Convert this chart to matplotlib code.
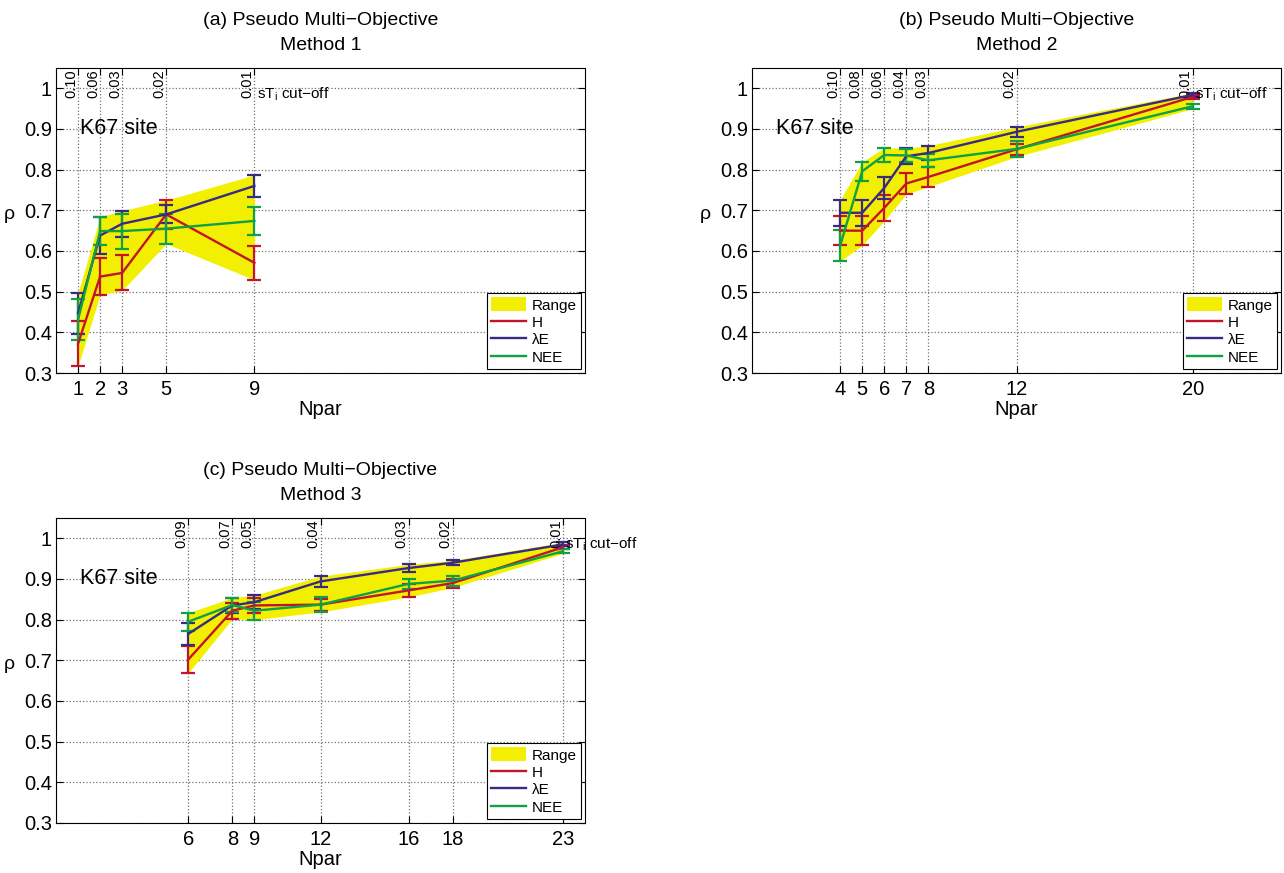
"""Correlation of simulated fluxes with observations against the number of
calibrated parameters, for the three pseudo multi-objective methods (K67 site).
"""

import matplotlib.pyplot as plt
import numpy as np
from matplotlib.lines import Line2D
from matplotlib.patches import Patch

plt.rcParams["font.family"] = ["Liberation Sans", "DejaVu Sans"]
plt.rcParams["mathtext.fontset"] = "custom"
plt.rcParams["mathtext.rm"] = "Liberation Sans"
plt.rcParams["mathtext.it"] = "Liberation Sans:italic"

RANGE_COLOR = "#f2f000"
H_COLOR = "#c1152e"
LE_COLOR = "#3a2b82"
NEE_COLOR = "#10a047"

# Method 1
npar_a = [1, 2, 3, 5, 9]
cutoff_a = ["0.10", "0.06", "0.03", "0.02", "0.01"]
h_a = [0.372, 0.537, 0.546, 0.690, 0.571]
h_err_a = [0.055, 0.045, 0.043, 0.035, 0.042]
le_a = [0.447, 0.638, 0.667, 0.690, 0.760]
le_err_a = [0.050, 0.046, 0.032, 0.022, 0.027]
nee_a = [0.431, 0.649, 0.649, 0.655, 0.674]
nee_err_a = [0.050, 0.035, 0.043, 0.037, 0.035]

# Method 2
npar_b = [4, 5, 6, 7, 8, 12, 20]
cutoff_b = ["0.10", "0.08", "0.06", "0.04", "0.03", "0.02", "0.01"]
h_b = [0.650, 0.650, 0.706, 0.766, 0.782, 0.850, 0.979]
h_err_b = [0.036, 0.036, 0.032, 0.026, 0.024, 0.014, 0.005]
le_b = [0.694, 0.694, 0.755, 0.833, 0.841, 0.893, 0.984]
le_err_b = [0.032, 0.032, 0.026, 0.020, 0.018, 0.012, 0.005]
nee_b = [0.613, 0.796, 0.836, 0.835, 0.823, 0.851, 0.956]
nee_err_b = [0.038, 0.023, 0.018, 0.016, 0.016, 0.019, 0.006]

# Method 3
npar_c = [6, 8, 9, 12, 16, 18, 23]
cutoff_c = ["0.09", "0.07", "0.05", "0.04", "0.03", "0.02", "0.01"]
h_c = [0.702, 0.822, 0.835, 0.837, 0.872, 0.890, 0.978]
h_err_c = [0.033, 0.020, 0.018, 0.015, 0.016, 0.011, 0.005]
le_c = [0.765, 0.835, 0.843, 0.894, 0.927, 0.940, 0.985]
le_err_c = [0.027, 0.018, 0.017, 0.013, 0.009, 0.006, 0.005]
nee_c = [0.795, 0.836, 0.822, 0.837, 0.888, 0.896, 0.968]
nee_err_c = [0.022, 0.018, 0.022, 0.018, 0.012, 0.012, 0.005]

yticks = [0.3, 0.4, 0.5, 0.6, 0.7, 0.8, 0.9, 1.0]
ytick_labels = ["0.3", "0.4", "0.5", "0.6", "0.7", "0.8", "0.9", "1"]


def draw_panel(ax, npar, cutoffs, h, h_err, le, le_err, nee, nee_err, title):
    """Draw the three flux series with error bars over their envelope."""
    x = np.asarray(npar, dtype=float)
    vals = np.array([h, le, nee])
    errs = np.array([h_err, le_err, nee_err])
    lower = (vals - errs).min(axis=0)
    upper = (vals + errs).max(axis=0)

    ax.fill_between(x, lower, upper, color=RANGE_COLOR, lw=0, zorder=1)
    for v, e, c in zip(vals, errs, [H_COLOR, LE_COLOR, NEE_COLOR]):
        ax.errorbar(x, v, yerr=e, color=c, lw=1.7, elinewidth=1.6,
                    capsize=5, capthick=1.6, zorder=3)

    ax.set_xlim(0, 24)
    ax.set_ylim(0.3, 1.05)
    ax.set_xticks(npar)
    ax.set_xticklabels([str(n) for n in npar])
    ax.set_yticks(yticks)
    ax.set_yticklabels(ytick_labels)
    ax.tick_params(direction="in", length=5, width=0.8, labelsize=14.5,
                   top=True, right=True)
    ax.tick_params(axis="x", pad=5)
    ax.tick_params(axis="y", pad=3)
    ax.grid(True, linestyle=":", color="0.45", linewidth=0.9)
    ax.set_axisbelow(True)
    for spine in ax.spines.values():
        spine.set_linewidth(0.8)

    # sensitivity-index cut-off for each parameter set
    for n, c in zip(npar, cutoffs):
        ax.text(n, 1.046, c, rotation=90, ha="right", va="top", fontsize=10.5)
    ax.text(npar[-1] + 0.1, 0.985, r"sT$_{\rm i}$ cut$-$off", ha="left",
            va="center", fontsize=11)

    ax.text(0.045, 0.8, "K67 site", transform=ax.transAxes, ha="left",
            va="center", fontsize=15.5)

    handles = [
        Patch(facecolor=RANGE_COLOR, edgecolor="none", label="Range"),
        Line2D([], [], color=H_COLOR, lw=1.7, label="H"),
        Line2D([], [], color=LE_COLOR, lw=1.7, label="λE"),
        Line2D([], [], color=NEE_COLOR, lw=1.7, label="NEE"),
    ]
    leg = ax.legend(handles=handles, loc="lower right", fontsize=11,
                    fancybox=False, framealpha=1, edgecolor="black",
                    borderaxespad=0.25, handlelength=2.3, handleheight=1.0,
                    labelspacing=0.15, borderpad=0.3, handletextpad=0.35)
    leg.get_frame().set_linewidth(0.8)

    ax.set_title(title, fontsize=14, linespacing=1.6, pad=13)
    ax.set_xlabel("Npar", fontsize=14.5, labelpad=1)
    ax.set_ylabel("ρ", fontsize=14, rotation=0, ha="right", va="center")
    ax.yaxis.set_label_coords(-0.078, (0.69 - 0.3) / 0.75)


W, H = 1284, 873
fig = plt.figure(figsize=(W / 100, H / 100), dpi=100)
ax_a = fig.add_axes([56 / W, 1 - 373 / H, 529 / W, 305 / H])
ax_b = fig.add_axes([752 / W, 1 - 373 / H, 529 / W, 305 / H])
ax_c = fig.add_axes([56 / W, 1 - 823 / H, 529 / W, 305 / H])

draw_panel(ax_a, npar_a, cutoff_a, h_a, h_err_a, le_a, le_err_a, nee_a,
           nee_err_a, "(a) Pseudo Multi\u2212Objective\nMethod 1")
draw_panel(ax_b, npar_b, cutoff_b, h_b, h_err_b, le_b, le_err_b, nee_b,
           nee_err_b, "(b) Pseudo Multi\u2212Objective\nMethod 2")
draw_panel(ax_c, npar_c, cutoff_c, h_c, h_err_c, le_c, le_err_c, nee_c,
           nee_err_c, "(c) Pseudo Multi\u2212Objective\nMethod 3")

fig.savefig("out.png", dpi=100)
